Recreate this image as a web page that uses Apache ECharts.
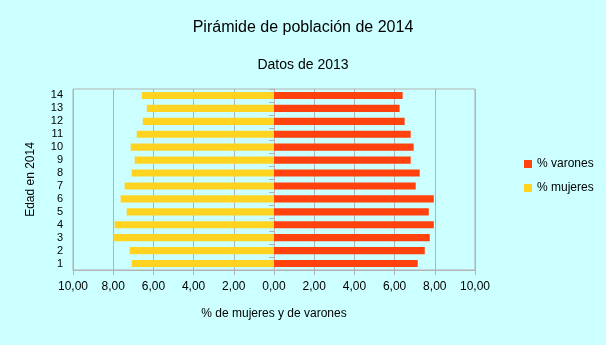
<!DOCTYPE html>
<html><head><meta charset="utf-8">
<script src="https://cdn.jsdelivr.net/npm/echarts@6/dist/echarts.min.js"></script>
<style>html,body{margin:0;padding:0;background:#ccffff}#c{width:606px;height:345px}</style>
</head><body><div id="c"></div>
<script>
const categories = ['1','2','3','4','5','6','7','8','9','10','11','12','13','14'];
const varones = [7.15,7.50,7.75,7.95,7.70,7.95,7.05,7.25,6.80,6.95,6.80,6.50,6.25,6.40];
const mujeres = [7.08,7.18,7.99,7.93,7.33,7.63,7.43,7.08,6.93,7.13,6.83,6.53,6.33,6.58];
const mujeresNeg = mujeres.map(v => -v);
const font = 'Liberation Sans, Arial, sans-serif';
const chart = echarts.init(document.getElementById('c'));
chart.setOption({
  backgroundColor: '#ccffff',
  animation: false,
  textStyle: {fontFamily: font},
  title: [
    {text: 'Pirámide de población de 2014', left: 'center', top: 15, textStyle: {fontFamily: font, fontSize: 16, fontWeight: 'normal', color: '#000'}},
    {text: 'Datos de 2013', left: 'center', top: 53, textStyle: {fontFamily: font, fontSize: 14, fontWeight: 'normal', color: '#000'}}
  ],
  legend: {
    orient: 'vertical', left: 519, top: 153, itemWidth: 8, itemHeight: 8, itemGap: 12, icon: 'rect',
    textStyle: {fontFamily: font, fontSize: 12, color: '#000'},
    data: ['% varones', '% mujeres']
  },
  grid: {left: 73, right: 131, top: 89, bottom: 75, show: true, borderColor: '#b3b3b3', borderWidth: 1, backgroundColor: 'transparent'},
  xAxis: {
    type: 'value', min: -10, max: 10, interval: 2,
    name: '% de mujeres y de varones', nameLocation: 'middle', nameGap: 38,
    nameTextStyle: {fontFamily: font, fontSize: 12, color: '#000'},
    axisLine: {show: true, lineStyle: {color: '#b3b3b3'}},
    axisTick: {show: true, length: 5, lineStyle: {color: '#b3b3b3'}},
    splitLine: {show: true, lineStyle: {color: '#b3b3b3'}},
    axisLabel: {fontFamily: font, fontSize: 12, color: '#000', margin: 11,
      formatter: v => Math.abs(v).toFixed(2).replace('.', ',')}
  },
  yAxis: {
    type: 'category', data: categories,
    name: 'Edad en 2014', nameLocation: 'middle', nameGap: 36, nameRotate: 90,
    nameTextStyle: {fontFamily: font, fontSize: 12, color: '#000'},
    axisLine: {show: true, lineStyle: {color: '#b3b3b3'}},
    axisTick: {show: true, length: 5, interval: 0, lineStyle: {color: '#b3b3b3'}},
    axisLabel: {fontFamily: font, fontSize: 11, color: '#000', margin: 10, interval: 0},
    splitLine: {show: false}
  },
  series: [
    {name: '% varones', type: 'bar', stack: 't', data: varones, barCategoryGap: '45%', itemStyle: {color: '#ff420e'}},
    {name: '% mujeres', type: 'bar', stack: 't', data: mujeresNeg, barCategoryGap: '45%', itemStyle: {color: '#ffd320'}}
  ]
});
</script></body></html>
